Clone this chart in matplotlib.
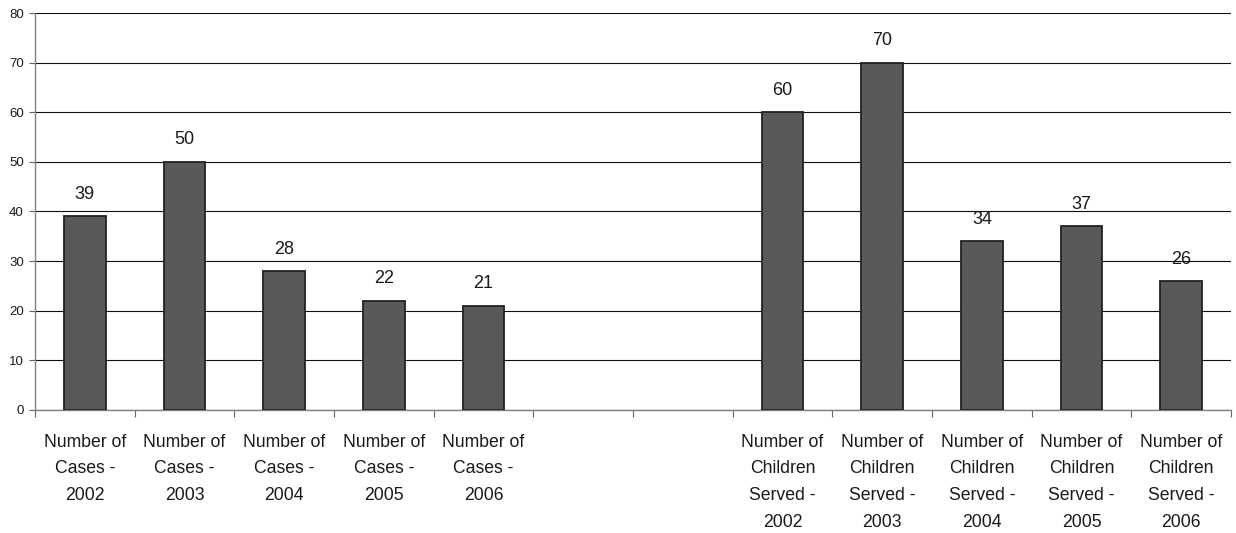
import matplotlib
matplotlib.use("Agg")
import matplotlib.pyplot as plt
import numpy as np

plt.rcParams['font.family'] = ['Liberation Sans', 'DejaVu Sans']

categories = [
    "Number of\nCases -\n2002", "Number of\nCases -\n2003", "Number of\nCases -\n2004",
    "Number of\nCases -\n2005", "Number of\nCases -\n2006", "", "",
    "Number of\nChildren\nServed -\n2002", "Number of\nChildren\nServed -\n2003",
    "Number of\nChildren\nServed -\n2004", "Number of\nChildren\nServed -\n2005",
    "Number of\nChildren\nServed -\n2006",
]
values = [39, 50, 28, 22, 21, None, None, 60, 70, 34, 37, 26]
y_ticks = [0, 10, 20, 30, 40, 50, 60, 70, 80]

fig = plt.figure(figsize=(12.36, 5.33), dpi=100)
ax = fig.add_axes([0.0283, 0.2308, 0.9677, 0.7448])

x = np.arange(len(categories))
for xi, v in zip(x, values):
    if v is None:
        continue
    ax.bar(xi, v, width=0.42, color='#595959', edgecolor='#222222', linewidth=1.3, zorder=3)
    ax.annotate(str(v), (xi, v), xytext=(0, 15.8), textcoords='offset points',
                ha='center', va='center', fontsize=13, color='#1a1a1a', zorder=4)

ax.set_xlim(-0.5, len(categories) - 0.5)
ax.set_ylim(0, 80)
ax.set_yticks(y_ticks)
ax.tick_params(axis='y', labelsize=9.5, length=4, width=0.8, color='#666666', pad=4,
               labelcolor='#1a1a1a')

ax.set_xticks(x)
ax.set_xticklabels(categories, fontsize=12.7, linespacing=1.76, color='#1a1a1a')
ax.set_xticks(np.arange(-0.5, len(categories)), minor=True)
ax.tick_params(axis='x', which='major', length=0, pad=17)
ax.tick_params(axis='x', which='minor', length=5, width=0.8, color='#666666')

ax.yaxis.grid(True, color='#111111', linewidth=0.8, zorder=0)
ax.set_axisbelow(True)
for side in ('top', 'right'):
    ax.spines[side].set_visible(False)
for side in ('left', 'bottom'):
    ax.spines[side].set_color('#808080')
    ax.spines[side].set_linewidth(1.0)

fig.savefig("out.png", dpi=100)
